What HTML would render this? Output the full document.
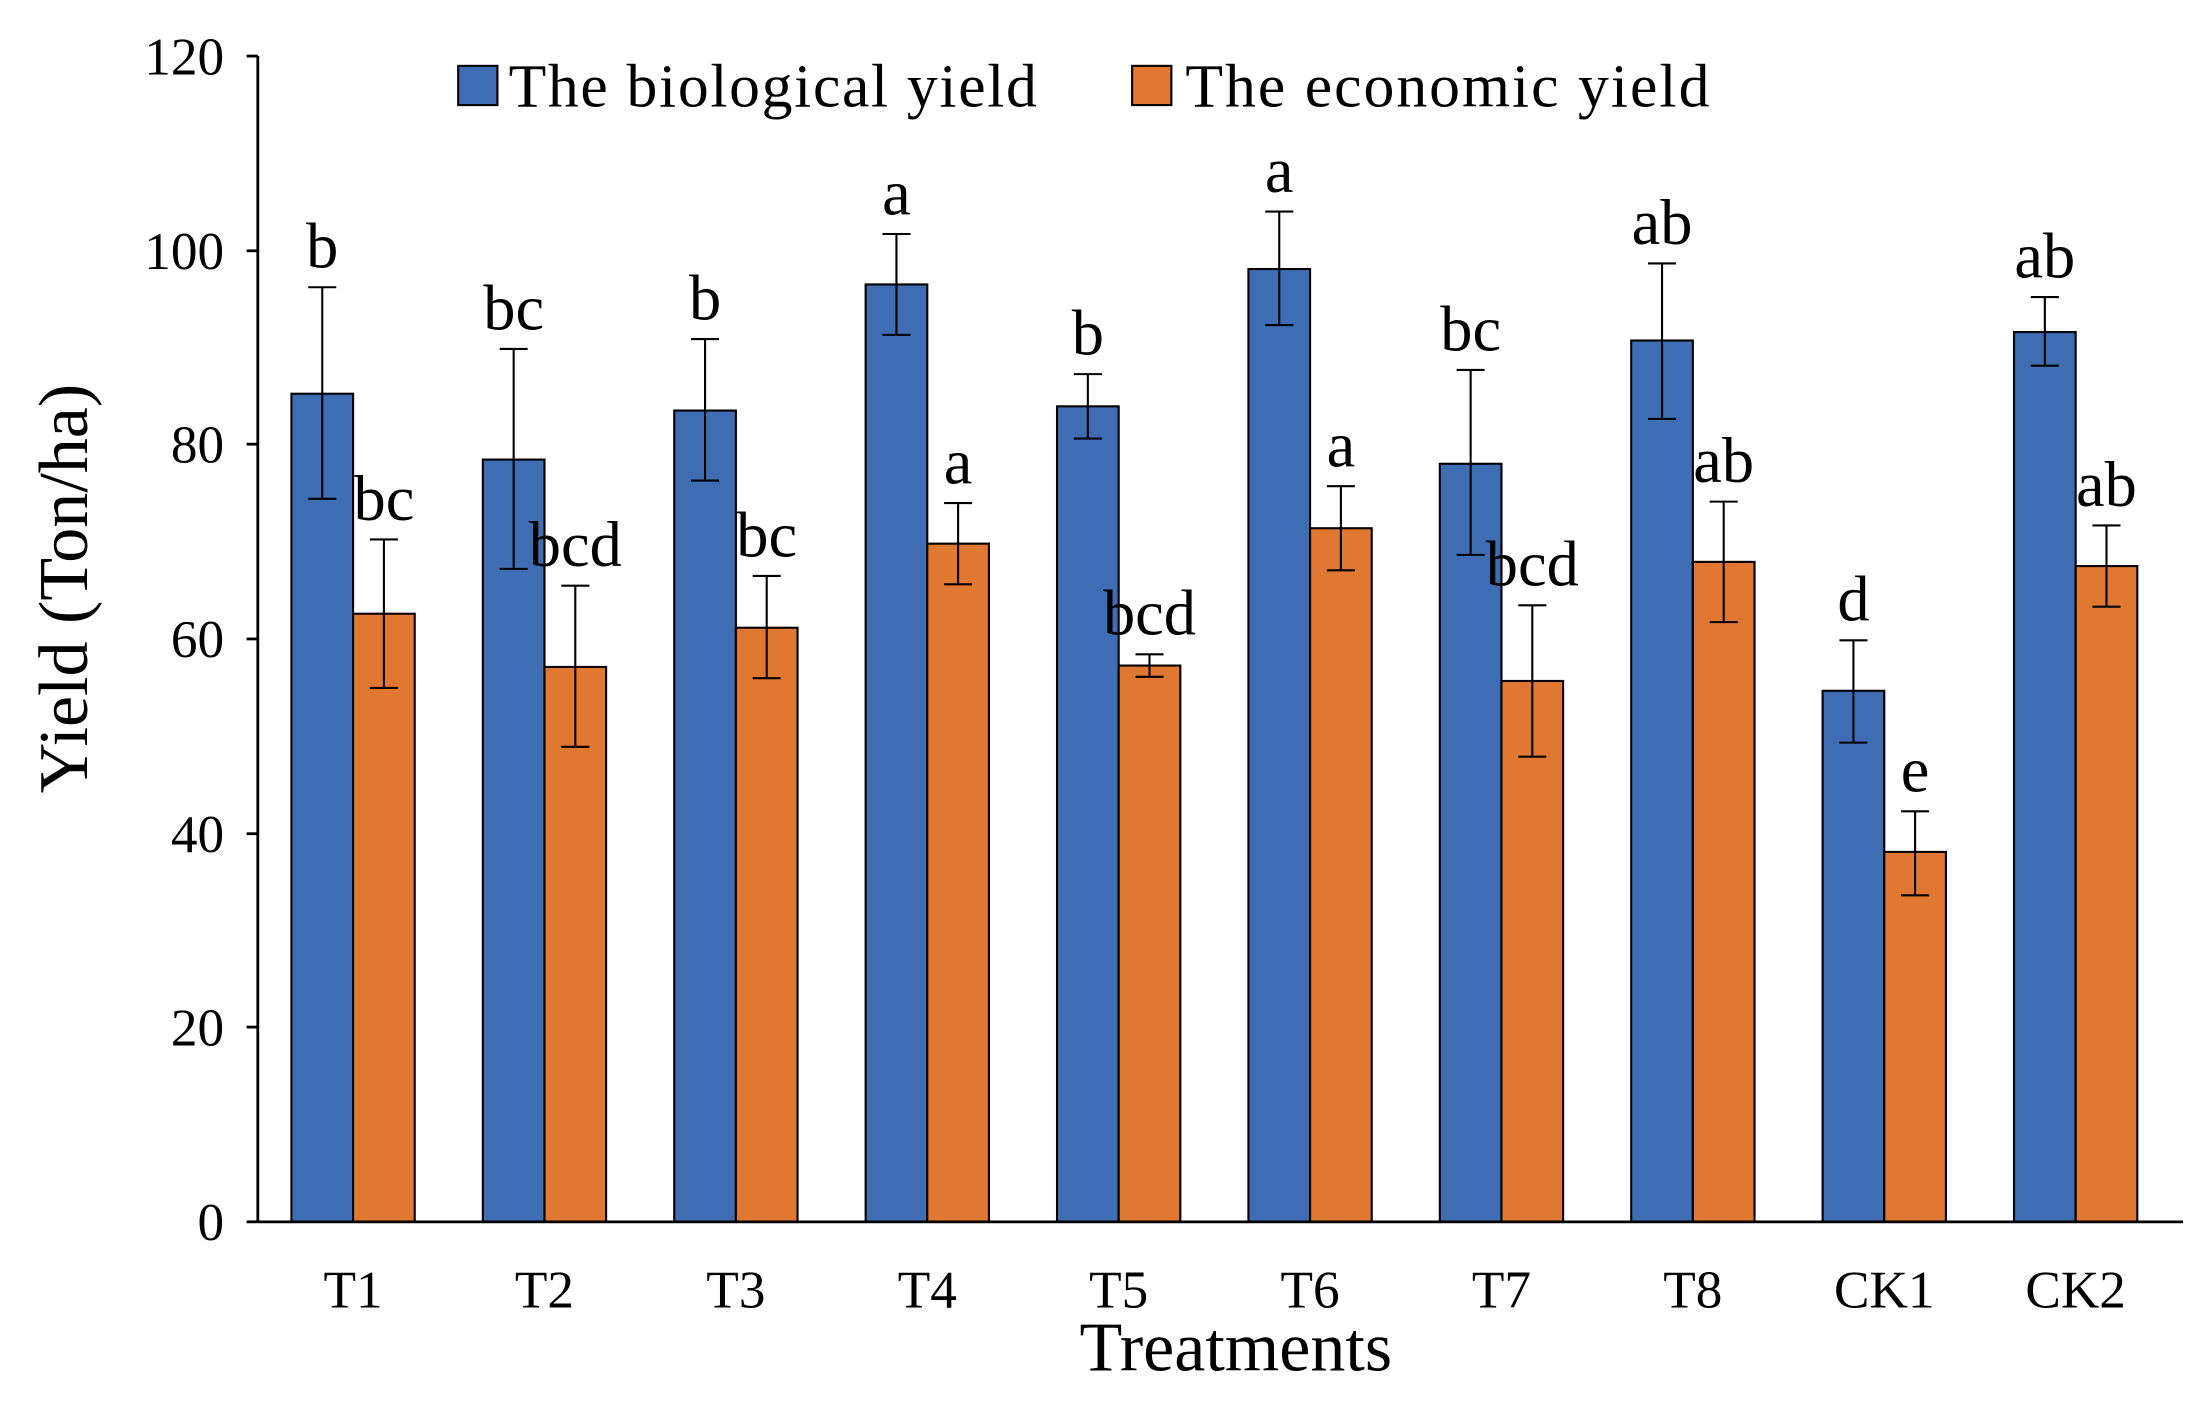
<!DOCTYPE html>
<html><head><style>html,body{margin:0;padding:0;background:#fff}svg{display:block}</style></head>
<body>
<svg width="2197" height="1411" viewBox="0 0 1568 1007" preserveAspectRatio="none" xmlns="http://www.w3.org/2000/svg" font-family="Liberation Serif, serif">
<rect width="1568" height="1007" fill="#fff"/>
<g id="bars" stroke="#000" stroke-width="1.5"></g>
<g stroke="#000" stroke-width="2" fill="none">
<line x1="184" y1="40" x2="184" y2="872"/>
<line x1="184" y1="872" x2="1558" y2="872"/>
<line x1="176" y1="40" x2="184" y2="40"/><line x1="176" y1="179" x2="184" y2="179"/>
<line x1="176" y1="317" x2="184" y2="317"/><line x1="176" y1="456" x2="184" y2="456"/>
<line x1="176" y1="595" x2="184" y2="595"/><line x1="176" y1="733" x2="184" y2="733"/>
<line x1="176" y1="872" x2="184" y2="872"/>
</g>
<g font-size="38" text-anchor="end">
<text x="160" y="53">120</text><text x="160" y="192">100</text><text x="160" y="330">80</text>
<text x="160" y="469">60</text><text x="160" y="608">40</text><text x="160" y="746">20</text><text x="160" y="885">0</text>
</g>
<text transform="translate(62,420) rotate(-90)" font-size="50" text-anchor="middle">Yield (Ton/ha)</text>
<text x="882" y="978" font-size="50" text-anchor="middle">Treatments</text>
<rect x="327" y="47" width="28" height="28" fill="#3f6db3" stroke="#000" stroke-width="1.5"/>
<text x="363" y="76" font-size="44" textLength="377" lengthAdjust="spacing">The biological yield</text>
<rect x="808" y="47" width="28" height="28" fill="#e07832" stroke="#000" stroke-width="1.5"/>
<text x="846" y="76" font-size="44" textLength="374" lengthAdjust="spacing">The economic yield</text>
<g id="lab" font-size="46" text-anchor="middle"></g>
<g id="xl" font-size="38" text-anchor="middle"></g>
<script>
var ns="http://www.w3.org/2000/svg";
var names=["T1","T2","T3","T4","T5","T6","T7","T8","CK1","CK2"];
var b=[[281,205,356,"b"],[328,249,406,"bc"],[293,242,343,"b"],[203,167,239,"a"],[290,267,313,"b"],[192,151,232,"a"],[331,264,396,"bc"],[243,188,299,"ab"],[493,457,530,"d"],[237,212,261,"ab"]];
var o=[[438,385,491,"bc"],[476,418,533,"bcd"],[448,411,484,"bc"],[388,359,417,"a"],[475,467,483,"bcd"],[377,347,407,"a"],[486,432,540,"bcd"],[401,358,444,"ab"],[608,579,639,"e"],[404,375,433,"ab"]];
var g=document.getElementById("bars"),L=document.getElementById("lab"),X=document.getElementById("xl");
function el(p,t,a,txt){var e=document.createElementNS(ns,t);for(var k in a)e.setAttribute(k,a[k]);if(txt)e.textContent=txt;p.appendChild(e);}
for(var i=0;i<10;i++){var c=252+136.6*i;
 [[b[i],c-44,"#3f6db3"],[o[i],c,"#e07832"]].forEach(function(s){var d=s[0],x=s[1],m=x+22;
  el(g,"rect",{x:x,y:d[0],width:44,height:872-d[0],fill:s[2]});
  el(g,"line",{x1:m,y1:d[1],x2:m,y2:d[2]});
  el(g,"line",{x1:m-10,y1:d[1],x2:m+10,y2:d[1]});
  el(g,"line",{x1:m-10,y1:d[2],x2:m+10,y2:d[2]});
  el(L,"text",{x:m,y:d[1]-14},d[3]);});
 el(X,"text",{x:c,y:933},names[i]);
}
</script>
</svg>
</body></html>
